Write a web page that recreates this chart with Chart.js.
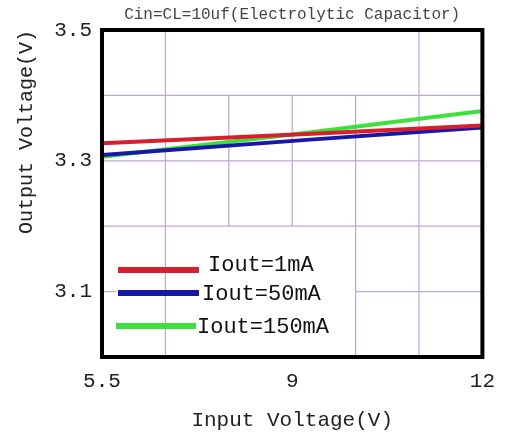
<!DOCTYPE html>
<html>
<head>
<meta charset="utf-8">
<script src="https://cdn.jsdelivr.net/npm/chart.js@4/dist/chart.umd.min.js"></script>
<style>
  html, body { margin: 0; padding: 0; background: #fff; }
  #wrap { width: 507px; height: 437px; }
</style>
</head>
<body>
<div id="wrap"><canvas id="c"></canvas></div>
<script>
const FONT = '"Liberation Mono", monospace';

// data
const inputVoltage = [5.5, 9, 12];
const vout1mA = [3.327, 3.341, 3.354];
const vout50mA = [3.309, 3.332, 3.351];
const vout150mA = [3.306, 3.343, 3.376];
const seriesLabels = ['Iout=1mA', 'Iout=50mA', 'Iout=150mA'];
const seriesColors = ['#d8202c', '#1818a8', '#3ce23c'];

const xTickLabels = ['5.5', '', '', '9', '', '', '12'];
const yTickLabels = { '3.1': '3.1', '3.3': '3.3', '3.5': '3.5' };
const titleText = 'Cin=CL=10uf(Electrolytic Capacitor)';

const xMin = 5.5, xMax = 12, xDiv = 6;
const xStep = (xMax - xMin) / xDiv;

// grid segments as in the original scan: [x0, x1, y0, y1] in axis units
const gridSegs = [
  [xMin, xMax, 3.4, 3.4],
  [xMin, xMax, 3.3, 3.3],
  [xMin, xMax, 3.2, 3.2],
  [xMin, xMin + 0.25, 3.1, 3.1],
  [xMin + 4 * xStep, xMax, 3.1, 3.1],
  [xMin + 1 * xStep, xMin + 1 * xStep, 3.0, 3.5],
  [xMin + 2 * xStep, xMin + 2 * xStep, 3.2, 3.4],
  [xMin + 3 * xStep, xMin + 3 * xStep, 3.2, 3.4],
  [xMin + 4 * xStep, xMin + 4 * xStep, 3.0, 3.4],
  [xMin + 5 * xStep, xMin + 5 * xStep, 3.0, 3.5],
];

const gridPlugin = {
  id: 'oldGrid',
  beforeDatasetsDraw(chart) {
    const { ctx, scales: { x, y } } = chart;
    ctx.save();
    ctx.strokeStyle = '#b9a6dc';
    ctx.lineWidth = 1.2;
    gridSegs.forEach(([x0, x1, y0, y1]) => {
      ctx.beginPath();
      ctx.moveTo(x.getPixelForValue(x0), y.getPixelForValue(y0));
      ctx.lineTo(x.getPixelForValue(x1), y.getPixelForValue(y1));
      ctx.stroke();
    });
    ctx.restore();
  },
  afterDraw(chart) {
    const { ctx, chartArea: a } = chart;
    ctx.save();
    // frame
    ctx.strokeStyle = '#000';
    ctx.lineWidth = 4;
    ctx.strokeRect(a.left, a.top, a.right - a.left, a.bottom - a.top);
    // title
    ctx.fillStyle = '#444';
    ctx.font = '16px ' + FONT;
    ctx.textAlign = 'center';
    ctx.textBaseline = 'middle';
    ctx.fillText(titleText, (a.left + a.right) / 2, 15);
    // legend inside plot
    const rows = [
      { ly: 270, x0: 118, x1: 199, tx: 208, ty: 265 },
      { ly: 293, x0: 118, x1: 199, tx: 202, ty: 294 },
      { ly: 326, x0: 116, x1: 196, tx: 197, ty: 327 },
    ];
    ctx.textAlign = 'left';
    ctx.font = '22px ' + FONT;
    ctx.fillStyle = '#111';
    chart.data.datasets.forEach((ds, i) => {
      const r = rows[i];
      ctx.strokeStyle = ds.borderColor;
      ctx.lineWidth = 6;
      ctx.beginPath();
      ctx.moveTo(r.x0, r.ly);
      ctx.lineTo(r.x1, r.ly);
      ctx.stroke();
      ctx.fillText(ds.label, r.tx, r.ty);
    });
    ctx.restore();
  },
};

new Chart(document.getElementById('c'), {
  type: 'line',
  data: {
    datasets: [vout1mA, vout50mA, vout150mA].map((vals, i) => ({
      label: seriesLabels[i],
      data: vals.map((v, j) => ({ x: inputVoltage[j], y: v })),
      borderColor: seriesColors[i],
      borderWidth: 4,
      pointRadius: 0,
      tension: 0,
    })),
  },
  options: {
    responsive: true,
    maintainAspectRatio: false,
    animation: false,
    layout: { padding: { left: 5, right: 18, top: 30, bottom: 0 } },
    plugins: {
      legend: { display: false },
      tooltip: { enabled: false },
    },
    scales: {
      x: {
        type: 'linear',
        min: xMin,
        max: xMax,
        afterBuildTicks(scale) {
          scale.ticks = xTickLabels.map((_, i) => ({ value: xMin + i * xStep }));
        },
        afterFit(scale) { scale.height = 80; },
        grid: { display: false, drawTicks: false },
        border: { display: false },
        ticks: {
          padding: 12,
          maxRotation: 0,
          autoSkip: false,
          color: '#222',
          font: { family: FONT, size: 21 },
          callback: (v, i) => xTickLabels[i],
        },
        title: {
          display: true,
          text: 'Input Voltage(V)',
          color: '#222',
          font: { family: FONT, size: 21 },
          padding: { top: 4, bottom: 4 },
        },
      },
      y: {
        min: 3.0,
        max: 3.5,
        afterFit(scale) { scale.width = 97; },
        grid: { display: false, drawTicks: false },
        border: { display: false },
        ticks: {
          stepSize: 0.1,
          padding: 10,
          color: '#222',
          font: { family: FONT, size: 21 },
          callback: (v) => yTickLabels[v.toFixed(1)] || '',
        },
        title: {
          display: true,
          text: 'Output Voltage(V)',
          align: 'end',
          color: '#222',
          font: { family: FONT, size: 20 },
          padding: { top: 10, bottom: 0 },
        },
      },
    },
  },
  plugins: [gridPlugin],
});
</script>
</body>
</html>
